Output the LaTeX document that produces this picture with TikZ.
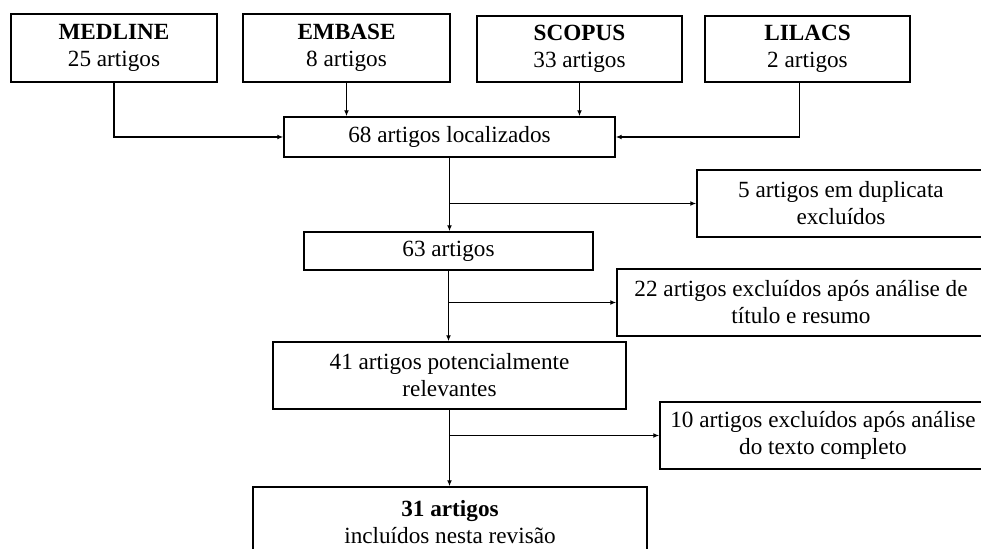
\documentclass[tikz,border=0pt]{standalone}
\usepackage{fontspec}
\setmainfont{Liberation Serif}
\usetikzlibrary{positioning,arrows.meta}

\begin{document}
\begin{tikzpicture}[x=0.5pt, y=-0.5pt,
  caixa/.style={draw=black, fill=white, line width=0.7pt, align=center, inner sep=0pt,
    font=\fontsize{11.6}{13.5}\selectfont},
  seta/.style={draw=black, line width=0.6pt, -{Latex[length=3pt,width=2.4pt]}}]
\useasboundingbox (0,0) rectangle (981,549);
\clip (0,0) rectangle (981,549);
% bases de dados
\node[caixa, minimum width=103pt, minimum height=34pt] (medline) at (114,48) {\textbf{MEDLINE}\\25 artigos};
\node[caixa, minimum width=103.5pt, minimum height=34pt] (embase) at (346.5,48) {\textbf{EMBASE}\\8 artigos};
\node[caixa, minimum width=102.5pt, minimum height=33pt] (scopus) at (579.5,49) {\textbf{SCOPUS}\\33 artigos};
\node[caixa, minimum width=102.5pt, minimum height=33pt] (lilacs) at (807.5,49) {\textbf{LILACS}\\2 artigos};
% fluxo principal
\node[caixa, minimum width=165.5pt, minimum height=20pt] (local) at (449.5,137) {68 artigos localizados};
\node[caixa, minimum width=144.5pt, minimum height=19pt] (n63) at (448.5,251) {63 artigos};
\node[caixa, minimum width=176.5pt, minimum height=33.5pt] (n41) at (449.5,375.5) {41 artigos potencialmente\\relevantes};
\node[caixa, minimum width=197pt, minimum height=35pt] (final) at (450,522) {\textbf{31 artigos}\\incluídos nesta revisão};
% exclusoes
\node[caixa, minimum width=144pt, minimum height=33.5pt] (dup) at (841,203.5) {5 artigos em duplicata\\excluídos};
\node[caixa, minimum width=184pt, minimum height=33.5pt] (triagem) at (801,302.5) {22 artigos excluídos após análise de\\título e resumo};
\node[caixa, minimum width=163pt, minimum height=33.5pt] (texto) at (823,435.5) {10 artigos excluídos após análise\\do texto completo};
% setas
\draw[seta] (medline.south) |- (local.west);
\draw[seta] (embase.south) -- (embase.south |- local.north);
\draw[seta] (scopus.south) -- (scopus.south |- local.north);
\draw[seta] ([xshift=-4pt]lilacs.south) |- (local.east);
\draw[seta] (local.south) -- (local.south |- n63.north);
\draw[seta] (local.south |- dup.west) -- (dup.west);
\draw[seta] (n63.south) -- (n63.south |- n41.north);
\draw[seta] (n63.south |- triagem.west) -- (triagem.west);
\draw[seta] (n41.south) -- (n41.south |- final.north);
\draw[seta] (n41.south |- texto.west) -- (texto.west);
\end{tikzpicture}
\end{document}
